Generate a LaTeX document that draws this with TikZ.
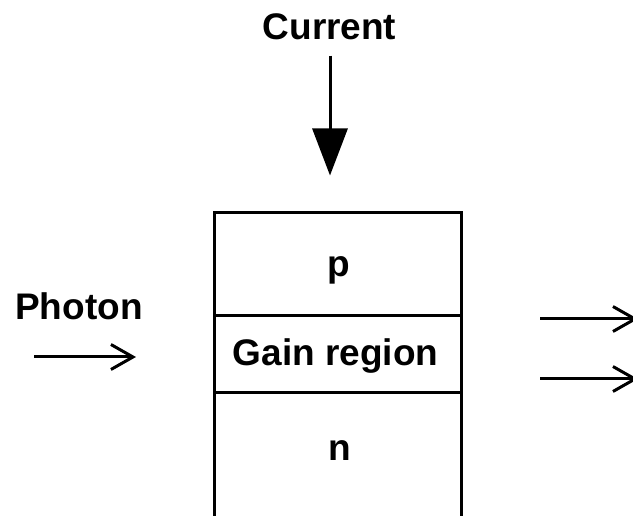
\documentclass[tikz,border=0pt]{standalone}
\usepackage{fontspec}
\setmainfont{Liberation Sans}
\usetikzlibrary{arrows.meta}
\begin{document}
\begin{tikzpicture}[x=1pt,y=1pt,
  lbl/.style={font=\fontsize{37}{40}\selectfont\bfseries, inner sep=0pt, anchor=base},
  layer/.style={draw, line width=3pt, minimum width=247pt, inner sep=0pt},
  barb/.style={line width=3pt, -{Straight Barb[length=22pt,width=25pt,line width=3pt]}}
  ]
\useasboundingbox (0,0) rectangle (633,515);
\clip (0,0) rectangle (633,515);
% layers
\node[layer, minimum height=103pt] (pbox) at (337.5,250.5) {};
\node[layer, minimum height=77pt] (gbox) at (337.5,160.5) {};
\node[layer, minimum height=137pt] (nbox) at (337.5,53.5) {};
% labels
\node[lbl] (cur) at (329.5,475) {Current};
\node[lbl] (pho) at (79,195) {Photon};
\node[lbl] (ptxt) at (339,238) {p};
\node[lbl] (gtxt) at (335.5,149) {Gain region};
\node[lbl] (ntxt) at (340,55) {n};
% current arrow
\draw[line width=3pt, -{Triangle[length=47pt,width=35pt]}, shorten <=15pt, shorten >=36pt]
  (cur.south -| 330,0) -- (pbox.north -| 330,0);
% photon arrows
\coordinate (ph1) at (34,158);
\coordinate (ph2) at (136,158);
\draw[barb] (ph1) -- (ph2);
\coordinate (o1a) at (540,196);
\coordinate (o1b) at (638,196);
\coordinate (o2a) at (540,136);
\coordinate (o2b) at (638,136);
\draw[barb] (o1a) -- (o1b);
\draw[barb] (o2a) -- (o2b);
\end{tikzpicture}
\end{document}
